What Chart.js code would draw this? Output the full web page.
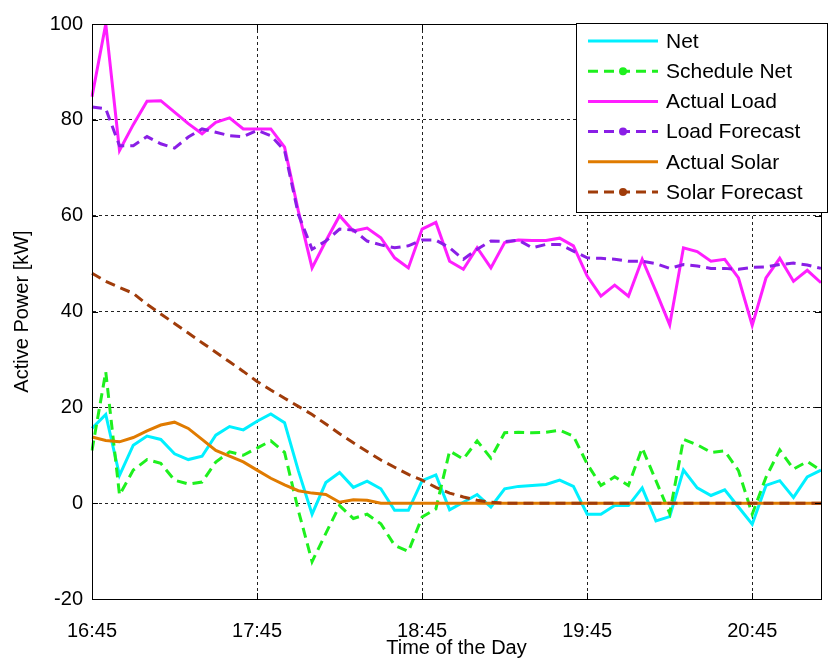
<!DOCTYPE html>
<html>
<head>
<meta charset="utf-8">
<script src="https://cdn.jsdelivr.net/npm/chart.js@4"></script>
<style>
  body { margin: 0; background: #fff; }
</style>
</head>
<body>
<canvas id="powerChart" width="833" height="667"></canvas>
<script>
const times = [
    "16:45", "16:50", "16:55", "17:00", "17:05", "17:10", "17:15", "17:20", "17:25", "17:30", "17:35", "17:40",
    "17:45", "17:50", "17:55", "18:00", "18:05", "18:10", "18:15", "18:20", "18:25", "18:30", "18:35", "18:40",
    "18:45", "18:50", "18:55", "19:00", "19:05", "19:10", "19:15", "19:20", "19:25", "19:30", "19:35", "19:40",
    "19:45", "19:50", "19:55", "20:00", "20:05", "20:10", "20:15", "20:20", "20:25", "20:30", "20:35", "20:40",
    "20:45", "20:50", "20:55", "21:00", "21:05", "21:10"
];

const net = [
    15.6, 18.5, 5.8, 12.1, 14, 13.3, 10.3, 9.1, 9.8, 14.2, 16, 15.3,
    17.1, 18.6, 16.8, 6.8, -2.3, 4.3, 6.4, 3.3, 4.6, 3, -1.5, -1.5,
    4.7, 5.9, -1.4, 0.2, 1.8, -0.8, 3, 3.5, 3.7, 3.9, 4.8, 3.5,
    -2.3, -2.3, -0.5, -0.5, 3.2, -3.7, -2.8, 6.9, 3.2, 1.6, 2.8, -0.8,
    -4.4, 3.7, 4.7, 1.2, 5.5, 6.9
];
const scheduleNet = [
    11, 27.4, 1.7, 6.9, 9.1, 8.3, 4.8, 4, 4.4, 8.6, 10.7, 10,
    11.5, 13, 10.6, -1.5, -12.2, -6.3, -0.5, -3.2, -2.3, -4.3, -8.8, -10.1,
    -2.9, -1.2, 10.9, 9.2, 13, 9.4, 14.7, 14.8, 14.7, 14.8, 15.2, 14,
    8.2, 3.7, 5.5, 3.7, 11.5, 4.7, -2.1, 13.3, 12.2, 10.6, 10.9, 6.8,
    -2.3, 5.4, 11.1, 7.1, 8.7, 6.8
];
const actualLoad = [
    84.8, 100, 73.6, 79, 83.9, 84, 81.6, 79.2, 77.1, 79.5, 80.4, 78.1,
    78.1, 78.1, 74.3, 61, 49.1, 54.7, 60, 56.8, 57.4, 55.4, 51.2, 49.1,
    57.2, 58.6, 50.5, 48.8, 53.3, 49.1, 54.4, 54.9, 54.8, 54.8, 55.3, 53.7,
    47.4, 43.2, 45.5, 43.2, 50.9, 44.2, 37.2, 53.3, 52.5, 50.5, 50.9, 47,
    37.1, 47, 51.1, 46.3, 48.6, 46
];
const loadForecast = [
    82.7, 82.3, 74.6, 74.6, 76.5, 75, 74.1, 76.4, 78.1, 77.4, 76.7, 76.5,
    77.8, 76.7, 73.6, 60.3, 53, 54.7, 57.2, 57, 54.7, 53.9, 53.3, 53.7,
    54.9, 54.9, 53.3, 50.9, 53, 54.7, 54.6, 54.9, 53.3, 54, 54, 52.6,
    51.2, 51.1, 50.9, 50.5, 50.5, 50, 49, 49.8, 49.5, 49, 49, 48.8,
    49.2, 49.3, 49.8, 50.1, 49.7, 49
];
const actualSolar = [
    13.8, 13.1, 12.8, 13.7, 15.1, 16.3, 16.9, 15.6, 13.3, 11, 9.8, 8.6,
    6.9, 5.2, 3.8, 2.6, 2.1, 1.8, 0.2, 0.7, 0.6, 0, 0, 0,
    0, 0, 0, 0, 0, 0, 0, 0, 0, 0, 0, 0,
    0, 0, 0, 0, 0, 0, 0, 0, 0, 0, 0, 0,
    0, 0, 0, 0, 0, 0
];
const solarForecast = [
    48, 46.3, 45, 43.8, 41.5, 39.5, 37.5, 35.5, 33.5, 31.5, 29.5, 27.5,
    25.4, 23.6, 21.9, 20.2, 18.5, 16.5, 14.5, 12.6, 10.8, 9, 7.5, 6,
    4.8, 3.3, 2.1, 1.3, 0.6, 0.2, 0, 0, 0, 0, 0, 0,
    0, 0, 0, 0, 0, 0, 0, 0, 0, 0, 0, 0,
    0, 0, 0, 0, 0, 0
];

const FONT = "'Liberation Sans', Arial, Helvetica, sans-serif";
const DASH = [10, 6];

function series(label, data, color, dashed, order) {
    return {
        label: label,
        data: data,
        borderColor: color,
        backgroundColor: color,
        borderWidth: 3,
        borderDash: dashed ? DASH : [],
        pointRadius: 0,
        tension: 0,
        fill: false,
        order: order
    };
}

// frame around the plot plus small inward tick marks
const boxPlugin = {
    id: 'box',
    afterDatasetsDraw(chart) {
        const ctx = chart.ctx;
        const a = chart.chartArea;
        const xs = chart.scales.x;
        const ys = chart.scales.y;
        ctx.save();
        ctx.strokeStyle = '#000';
        ctx.lineWidth = 1;
        ctx.setLineDash([]);
        ctx.strokeRect(a.left + 0.5, a.top + 0.5, a.right - a.left, a.bottom - a.top);
        ctx.beginPath();
        ys.ticks.forEach(t => {
            const y = Math.round(ys.getPixelForValue(t.value)) + 0.5;
            ctx.moveTo(a.left, y); ctx.lineTo(a.left + 6, y);
            ctx.moveTo(a.right, y); ctx.lineTo(a.right - 6, y);
        });
        xs.ticks.forEach((t, i) => {
            if (i % 12 !== 0) return;
            const x = Math.round(xs.getPixelForTick(i)) + 0.5;
            ctx.moveTo(x, a.bottom); ctx.lineTo(x, a.bottom - 6);
            ctx.moveTo(x, a.top); ctx.lineTo(x, a.top + 6);
        });
        ctx.stroke();
        ctx.restore();
    }
};

// legend box drawn inside the plot, top right
const legendBox = {
    id: 'legendBox',
    afterDraw(chart) {
        const ctx = chart.ctx;
        const a = chart.chartArea;
        const left = a.right - 245, top = a.top - 1;
        const w = 251, h = 189;
        ctx.save();
        ctx.fillStyle = '#fff';
        ctx.fillRect(left, top, w, h);
        ctx.strokeStyle = '#000';
        ctx.lineWidth = 1;
        ctx.strokeRect(left + 0.5, top + 0.5, w, h);
        ctx.font = '21px ' + FONT;
        ctx.textBaseline = 'middle';
        chart.data.datasets.forEach((ds, i) => {
            const y = top + 18 + i * 30.2;
            ctx.strokeStyle = ds.borderColor;
            ctx.lineWidth = 3;
            ctx.setLineDash(ds.borderDash);
            ctx.beginPath();
            ctx.moveTo(left + 12, y);
            ctx.lineTo(left + 82, y);
            ctx.stroke();
            if (ds.borderDash.length) {
                ctx.fillStyle = ds.borderColor;
                ctx.beginPath();
                ctx.arc(left + 47, y, 4, 0, Math.PI * 2);
                ctx.fill();
            }
            ctx.setLineDash([]);
            ctx.fillStyle = '#000';
            ctx.fillText(ds.label, left + 90, y + 1);
        });
        ctx.restore();
    }
};

const ctx = document.getElementById('powerChart').getContext('2d');
new Chart(ctx, {
    type: 'line',
    data: {
        labels: times,
        datasets: [
            series('Net', net, '#00f0ff', false, 6),
            series('Schedule Net', scheduleNet, '#1ef01e', true, 5),
            series('Actual Load', actualLoad, '#ff1eff', false, 4),
            series('Load Forecast', loadForecast, '#8a1ee6', true, 3),
            series('Actual Solar', actualSolar, '#e07b00', false, 2),
            series('Solar Forecast', solarForecast, '#a03c0a', true, 1)
        ]
    },
    options: {
        responsive: false,
        animation: false,
        devicePixelRatio: 1,
        layout: { padding: { top: 24, right: 12, left: 0, bottom: 0 } },
        plugins: {
            legend: { display: false },
            tooltip: { enabled: false }
        },
        scales: {
            x: {
                type: 'category',
                offset: false,
                grid: {
                    drawTicks: false,
                    lineWidth: 1,
                    color: c => (c.index % 12 === 0 ? '#222' : 'rgba(0,0,0,0)')
                },
                border: { display: true, color: '#000', dash: [3, 3] },
                ticks: {
                    autoSkip: false,
                    maxRotation: 0,
                    padding: 20,
                    color: '#000',
                    font: { family: FONT, size: 20 },
                    callback: function (value, index) {
                        return index % 12 === 0 ? this.getLabelForValue(value) : '';
                    }
                },
                title: {
                    display: true,
                    text: 'Time of the Day',
                    color: '#000',
                    font: { family: FONT, size: 20 },
                    padding: { top: 0, bottom: 7 }
                },
                afterFit: s => {
                    s.height = 68;
                    s.paddingLeft = 0;
                    s.paddingRight = 0;
                }
            },
            y: {
                min: -20,
                max: 100,
                grid: { drawTicks: false, lineWidth: 1, color: '#222' },
                border: { display: true, color: '#000', dash: [3, 3] },
                ticks: {
                    stepSize: 20,
                    padding: 9,
                    color: '#000',
                    font: { family: FONT, size: 20 }
                },
                title: {
                    display: true,
                    text: 'Active Power [kW]',
                    color: '#000',
                    font: { family: FONT, size: 20 },
                    padding: { top: 10, bottom: 0 }
                },
                afterFit: s => { s.width = 92; }
            }
        }
    },
    plugins: [boxPlugin, legendBox]
});
</script>
</body>
</html>
